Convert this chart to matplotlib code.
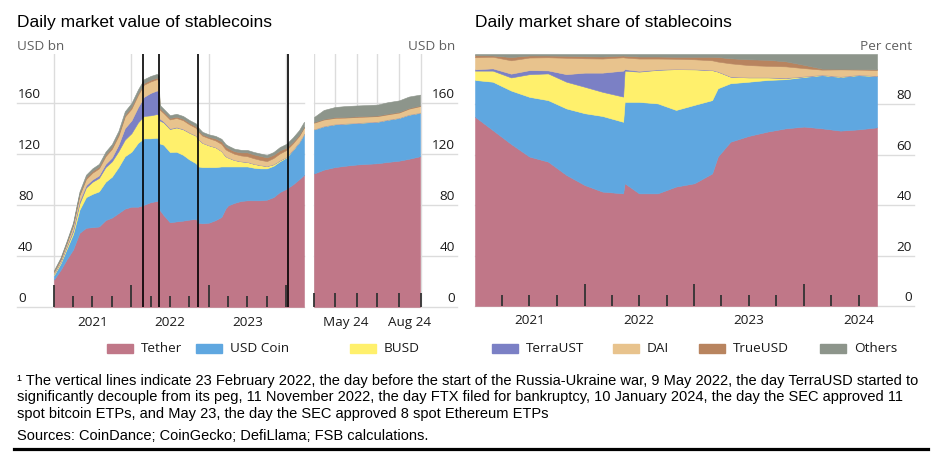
import numpy as np
import pandas as pd
import matplotlib
matplotlib.use("Agg")
import matplotlib.pyplot as plt
import matplotlib.transforms as mtrans
from matplotlib.patches import Rectangle
from matplotlib.lines import Line2D

# === Series ===
names = ["Tether", "USD Coin", "BUSD", "TerraUST", "DAI", "TrueUSD", "Others"]
colors = ["#C07788", "#5FA7E0", "#FFF06C", "#7B80C5", "#E8C38D", "#B8845F", "#8D958B"]

# === Market value, USD bn, Jan 2021 - Mar 2024 ===
value_dates = ["2021-01-01", "2021-02-01", "2021-03-01", "2021-04-01", "2021-05-01", "2021-06-01",
               "2021-07-01", "2021-08-01", "2021-09-01", "2021-10-01", "2021-11-01", "2021-12-01",
               "2022-01-01", "2022-02-01", "2022-03-01", "2022-04-01", "2022-05-01", "2022-05-09",
               "2022-05-14", "2022-06-01", "2022-07-01", "2022-08-01", "2022-09-01", "2022-10-01",
               "2022-11-01", "2022-11-11", "2022-12-01",
               "2023-01-01", "2023-02-01", "2023-03-01", "2023-03-20", "2023-04-01", "2023-05-01",
               "2023-06-01", "2023-07-01", "2023-08-01", "2023-09-01", "2023-10-01", "2023-11-01",
               "2023-12-01",
               "2024-01-01", "2024-02-01", "2024-03-01", "2024-03-24"]
tether_bn = [21.5, 29, 37, 45, 58, 62, 62.5, 63, 68, 70, 73.5, 77,
             78.5, 78.5, 80, 82, 83, 83.4, 76, 72, 66.3, 67, 67.6, 68.4, 69, 66, 65.5,
             66, 68, 70.5, 77, 79.5, 81.5, 83, 83.5, 83.5, 83.5, 84, 86, 90,
             92.5, 96, 100, 103.5]
usdc_bn = [3.5, 5, 8, 12, 18, 24, 26, 27.5, 30, 32, 36, 41,
           43, 50, 52, 50, 49.5, 48.5, 52, 55, 55, 54.5, 51.5, 47, 43.5, 44, 44,
           43.5, 41.5, 39.5, 33, 30.5, 28.5, 27, 26.5, 25.5, 25, 24.5, 24.5, 24,
           24.5, 27, 29, 32]
busd_bn = [1.0, 1.2, 1.6, 2.3, 5, 7.5, 9.5, 10.5, 11.5, 12, 12.5, 13,
           14.5, 16, 17.5, 18, 18.5, 18.5, 18, 17.5, 18, 19, 20, 21, 21.5, 21.5, 19,
           17, 15.5, 12, 8, 7, 5, 4, 3.5, 3, 2.5, 1.8, 1.2, 0.8,
           0.5, 0.3, 0.2, 0.1]
terra_bn = [0.2, 0.3, 0.8, 1.5, 2, 1.8, 1.8, 2, 2.5, 3, 5, 9,
            10, 12, 15, 17.5, 18.5, 18.5, 1.5, 0.8, 0.5, 0.4, 0.3, 0.2, 0.2, 0.1, 0.1,
            0.1, 0.1, 0.1, 0.1, 0.1, 0.1, 0.1, 0.1, 0.1, 0.1, 0.1, 0.1, 0.1,
            0.1, 0.1, 0.1, 0.1]
dai_bn = [1.3, 1.7, 2.3, 3.3, 4.5, 4.8, 5.3, 5.5, 6, 6.8, 7, 9,
          9.2, 9.5, 9.5, 9, 8.8, 8.5, 7, 6.5, 7, 7, 6.8, 6.3, 6, 5.8, 5.5,
          5.5, 5.2, 5.5, 5.3, 5.1, 4.8, 4.5, 4.4, 4.3, 4, 3.8, 4.8, 5.3,
          5.3, 4.8, 4.6, 4.8]
tusd_bn = [0.3, 0.4, 0.4, 0.5, 0.9, 1.4, 1.4, 1.4, 1.4, 1.4, 1.4, 1.4,
           1.4, 1.3, 1.3, 1.3, 1.3, 1.2, 1.2, 1.1, 1.1, 1.1, 1.1, 1.2, 1.2, 1.0, 1.0,
           1.0, 1.6, 2.0, 2.2, 2.1, 2.0, 2.4, 3.0, 3.0, 3.1, 2.9, 2.5, 2.4,
           1.8, 1.2, 0.9, 0.5]
others_bn = [1.0, 1.1, 1.2, 1.5, 1.8, 2.0, 2.0, 2.1, 2.2, 2.3, 2.5, 2.8,
             3.0, 3.0, 3.0, 3.0, 2.8, 2.7, 2.5, 2.3, 2.2, 2.2, 2.2, 2.2, 2.2, 2.2, 2.0,
             2.0, 2.0, 2.0, 2.0, 2.0, 2.0, 2.0, 1.9, 1.9, 1.9, 1.9, 2.2, 2.6,
             3.0, 3.4, 3.7, 4.0]

# === Market value, USD bn, Apr - Aug 2024 ===
recent_dates = ["2024-04-01", "2024-04-15", "2024-05-01", "2024-05-15", "2024-06-01", "2024-06-15",
                "2024-07-01", "2024-07-15", "2024-08-01", "2024-08-15", "2024-08-31"]
tether_recent = [104.5, 107.5, 109.5, 110.5, 111.5, 112, 112.5, 113.5, 114.5, 116, 118]
usdc_recent = [34.5, 34, 33.5, 33, 32.5, 32.5, 32.5, 33, 33.5, 34.5, 34]
busd_recent = [0.1] * 11
terra_recent = [0.1] * 11
dai_recent = [5, 5, 4.8, 4.5, 4.5, 4.3, 4.2, 4, 4, 4.5, 5]
tusd_recent = [0.5] * 11
others_recent = [4, 7, 8, 8.5, 8.5, 8.5, 8.5, 9, 9, 9, 8.5]

# === Market share, per cent ===
share_dates = ["2021-01-01", "2021-03-01", "2021-05-01", "2021-07-01", "2021-09-01", "2021-11-01",
               "2022-01-01", "2022-03-01", "2022-05-09", "2022-05-14", "2022-07-01", "2022-09-01",
               "2022-11-01", "2023-01-01", "2023-03-01", "2023-03-20", "2023-05-01", "2023-07-01",
               "2023-09-01", "2023-11-01", "2024-01-01", "2024-03-01", "2024-05-01", "2024-07-01",
               "2024-08-31"]
tether_pct = [75.1, 69.8, 64.3, 59.3, 57.3, 52, 48, 45.4, 44.7, 48.7, 44.7, 44.7, 47.4,
              48.7, 52.6, 59.3, 65.2, 67.5, 69.2, 70.5, 71.2, 70.5, 69.6, 70.1, 70.9]
usdc_pct = [14.6, 19.2, 21.2, 23.7, 24.4, 26.4, 28.5, 30, 28.4, 32.3, 36.3, 35.7, 30.4,
            31.1, 29.1, 27.1, 23.2, 21.5, 20.5, 19.5, 19.7, 21.1, 21.3, 21.5, 20.3]
busd_pct = [3.7, 4.4, 5.2, 9, 10.6, 10.6, 10.5, 9.6, 10, 12.4, 12, 13.3, 16.2,
            14.1, 11.9, 6.6, 2.6, 1.7, 1, 0.5, 0.2, 0.1, 0.1, 0.1, 0.1]
terra_pct = [0.5, 0.9, 1.5, 1.6, 1.2, 3, 5.6, 7.6, 10.3, 0.6, 0.3, 0.2, 0.1,
             0.1, 0.1, 0.1, 0.1, 0.1, 0.1, 0.1, 0.1, 0.1, 0.1, 0.1, 0.1]
dai_pct = [4.8, 4.6, 5.3, 5, 5.2, 6.5, 5.7, 5.6, 5.3, 4.6, 4.9, 4.3, 4,
           3.9, 3.8, 3.9, 5.2, 4.8, 4.5, 4.5, 3.2, 2, 2.8, 2, 2.3]
tusd_pct = [0.8, 0.5, 1.3, 0.8, 0.7, 0.8, 0.8, 0.8, 0.7, 0.7, 0.8, 0.8, 0.8,
            1, 1.4, 1.8, 2, 2.3, 2.4, 2, 1.3, 0.4, 0.2, 0.2, 0.2]
others_pct = [0.5, 0.6, 1.2, 0.6, 0.6, 0.7, 0.9, 1, 0.6, 0.7, 1, 1, 1.1,
              1.1, 1.1, 1.2, 1.7, 2.1, 2.3, 2.9, 4.3, 5.8, 5.9, 6, 6.1]

event_dates = ["2022-02-23", "2022-05-09", "2022-11-11", "2024-01-10"]

# === Layout helpers (pixel coords of a 943x461 canvas) ===
W, H = 943, 461
TICK_FONT = "Open Sans"
TEXT_FONT = "Liberation Sans"
GRID = "#DCDCDC"
TXT = "#1a1a1a"

fig = plt.figure(figsize=(W / 100, H / 100), dpi=100)


def rect(x0, y0, x1, y1):
    return [x0 / W, 1 - y1 / H, (x1 - x0) / W, (y1 - y0) / H]


def stack(ax, dates, series):
    polys = ax.stackplot(pd.to_datetime(dates), *series, colors=colors, zorder=1)
    for p in polys:
        p.set_edgecolor(p.get_facecolor())
        p.set_linewidth(0.4)


def style(ax, yticks, side, major, minor, major_len, minor_len):
    for s in ax.spines.values():
        s.set_visible(False)
    ax.set_yticks([])
    for v in yticks:
        ax.axhline(v, color=GRID, lw=1, zorder=0, clip_on=False)
    if side == "left":
        tr = mtrans.offset_copy(ax.get_yaxis_transform(), fig=fig, x=1, y=5, units="dots")
        for v in yticks:
            ax.text(0, v, str(v), transform=tr, ha="left", va="baseline",
                    fontsize=9.7, family=TICK_FONT, color=TXT)
    else:
        tr = mtrans.offset_copy(ax.get_yaxis_transform(), fig=fig, x=-2, y=5, units="dots")
        for v in yticks:
            ax.text(1, v, str(v), transform=tr, ha="right", va="baseline",
                    fontsize=9.7, family=TICK_FONT, color=TXT)
    ax.set_xticks(pd.to_datetime(major))
    ax.set_xticks(pd.to_datetime(minor), minor=True)
    ax.tick_params(axis="x", which="major", direction="in", length=major_len, width=1.3,
                   color="#333333", labelbottom=False)
    ax.tick_params(axis="x", which="minor", direction="in", length=minor_len, width=1.3,
                   color="#333333", labelbottom=False)


def xlabels(ax, dates, labels):
    tr = mtrans.offset_copy(ax.get_xaxis_transform(), fig=fig, x=0, y=-15, units="dots")
    for d, lab in zip(pd.to_datetime(dates), labels):
        ax.text(d, 0, lab, transform=tr, ha="center", va="center",
                fontsize=9.7, family=TICK_FONT, color=TXT)


# === Panel 1: value to Mar 2024 ===
ax1 = fig.add_axes(rect(17, 54, 304, 307))
for d in ["2021-01-01", "2022-01-01", "2023-01-01", "2024-01-01"]:
    ax1.axvline(pd.Timestamp(d), color=GRID, lw=1, zorder=0)
stack(ax1, value_dates, [tether_bn, usdc_bn, busd_bn, terra_bn, dai_bn, tusd_bn, others_bn])
for d in event_dates:
    ax1.axvline(pd.Timestamp(d), color="black", lw=1.2, zorder=3)
ax1.set_xlim(pd.Timestamp("2020-07-11"), pd.Timestamp("2024-03-24"))
ax1.set_ylim(0, 198)
style(ax1, [0, 40, 80, 120, 160], "left",
      ["2021-01-01", "2022-01-01", "2023-01-01", "2024-01-01"],
      [f"{y}-{m:02d}-01" for y in (2021, 2022, 2023) for m in (4, 7, 10)],
      16, 8)
xlabels(ax1, ["2021-07-01", "2022-07-01", "2023-07-01"], ["2021", "2022", "2023"])

# === Panel 2: value Apr - Aug 2024 ===
ax2 = fig.add_axes(rect(314, 54, 457, 307))
months2 = ["2024-04-01", "2024-05-01", "2024-06-01", "2024-07-01", "2024-08-01", "2024-09-01"]
for d in months2:
    ax2.axvline(pd.Timestamp(d), color=GRID, lw=1, zorder=0)
stack(ax2, recent_dates, [tether_recent, usdc_recent, busd_recent, terra_recent,
                          dai_recent, tusd_recent, others_recent])
ax2.set_xlim(pd.Timestamp("2024-04-01"), pd.Timestamp("2024-10-23"))
ax2.set_ylim(0, 198)
style(ax2, [0, 40, 80, 120, 160], "right", months2, [], 10, 0)
xlabels(ax2, ["2024-05-16", "2024-08-16"], ["May 24", "Aug 24"])

# === Panel 3: market share ===
ax3 = fig.add_axes(rect(475, 54, 914, 306))
stack(ax3, share_dates, [tether_pct, usdc_pct, busd_pct, terra_pct, dai_pct, tusd_pct, others_pct])
ax3.set_xlim(pd.Timestamp("2021-01-01"), pd.Timestamp("2025-01-01"))
ax3.set_ylim(0, 100)
quarters3 = [f"{y}-{m:02d}-01" for y in (2021, 2022, 2023) for m in (4, 7, 10)]
style(ax3, [0, 20, 40, 60, 80], "right",
      ["2022-01-01", "2023-01-01", "2024-01-01"],
      quarters3 + ["2024-04-01", "2024-07-01"],
      16, 8)
xlabels(ax3, ["2021-07-01", "2022-07-01", "2023-07-01", "2024-07-01"],
        ["2021", "2022", "2023", "2024"])

# === Titles and units ===
fig.text(17 / W, 1 - 27 / H, "Daily market value of stablecoins", fontsize=12.5,
         family=TEXT_FONT, color="black", va="baseline")
fig.text(475 / W, 1 - 27 / H, "Daily market share of stablecoins", fontsize=12.5,
         family=TEXT_FONT, color="black", va="baseline")
for x, ha, s in [(17, "left", "USD bn"), (455, "right", "USD bn"), (912, "right", "Per cent")]:
    fig.text(x / W, 1 - 50 / H, s, fontsize=9.7, family=TICK_FONT, color="#606060",
             ha=ha, va="baseline")

# === Legend ===
legend_x = [107, 196, 350, 492, 613, 699, 820]
for x, name, c in zip(legend_x, names, colors):
    fig.patches.append(Rectangle((x / W, 1 - 352.5 / H), 26 / W, 9 / H, color=c,
                                 transform=fig.transFigure))
    fig.text((x + 34) / W, 1 - 348 / H, name, fontsize=9.7, family=TICK_FONT,
             color=TXT, va="center")

# === Footnote ===
notes = [
    "\u00b9 The vertical lines indicate 23 February 2022, the day before the start of the Russia-Ukraine war, 9 May 2022, the day TerraUSD started to",
    "significantly decouple from its peg, 11 November 2022, the day FTX filed for bankruptcy, 10 January 2024, the day the SEC approved 11",
    "spot bitcoin ETPs, and May 23, the day the SEC approved 8 spot Ethereum ETPs",
]
for i, line in enumerate(notes):
    fig.text(17 / W, 1 - (384.5 + 16.6 * i) / H, line, fontsize=10.5, family=TEXT_FONT,
             color="black", va="baseline")
fig.text(17 / W, 1 - 440 / H, "Sources: CoinDance; CoinGecko; DefiLlama; FSB calculations.",
         fontsize=10.5, family=TEXT_FONT, color="black", va="baseline")
fig.lines.append(Line2D([14 / W, 928 / W], [1 - 449 / H, 1 - 449 / H], color="black",
                        lw=2.3, transform=fig.transFigure))

fig.savefig("out.png", dpi=100)
